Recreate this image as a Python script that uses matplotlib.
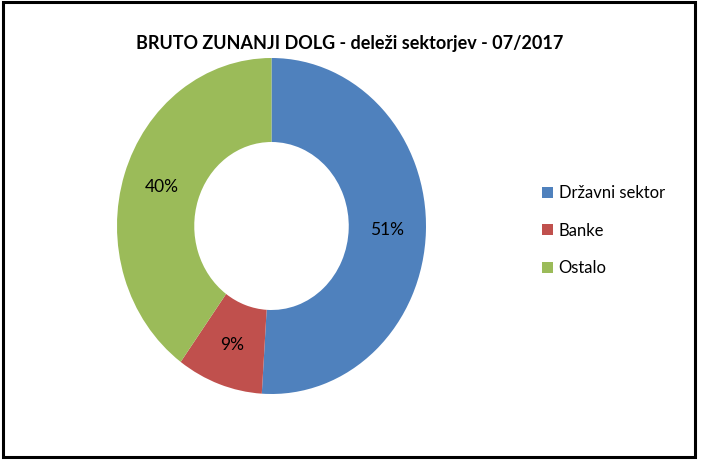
import matplotlib
matplotlib.use("Agg")
import matplotlib.pyplot as plt
from matplotlib.patches import Rectangle, Patch

categories = ["Državni sektor", "Banke", "Ostalo"]
shares = [51, 9, 40]
colors = ["#4F81BD", "#C0504D", "#9BBB59"]
title = "BRUTO ZUNANJI DOLG - deleži sektorjev - 07/2017"

W, H = 701, 462
fig = plt.figure(figsize=(W / 100, H / 100), dpi=100)
plt.rcParams['font.family'] = ['Lato', 'DejaVu Sans']

ax = fig.add_axes([117 / W, (H - 394) / H, 309 / W, 336 / H])
wedges, texts, autotexts = ax.pie(
    shares, colors=colors, startangle=90, counterclock=False,
    radius=1.0, wedgeprops=dict(width=0.5, edgecolor='none'),
    autopct='%1.0f%%', pctdistance=0.75,
    textprops=dict(fontsize=12.5, color='black'))
ax.set_aspect('auto')
ax.set_xlim(-1, 1)
ax.set_ylim(-1, 1)
ax.axis('off')

fig.text(350 / W, 1 - 44 / H, title, ha='center', va='center',
         fontsize=13, fontweight='bold')

handles = [Patch(facecolor=c, edgecolor='none') for c in colors]
fig.legend(handles, categories, loc='upper left',
           bbox_to_anchor=(527 / W, 1 - 170 / H), frameon=False,
           fontsize=12, handlelength=0.65, handleheight=0.65,
           handletextpad=0.35, labelspacing=1.3)

fig.add_artist(Rectangle((3 / W, 1 - 456.5 / H), 692 / W, 454.5 / H,
                         transform=fig.transFigure, fill=False,
                         edgecolor='black', linewidth=2.2))

fig.savefig("out.png", dpi=100)
